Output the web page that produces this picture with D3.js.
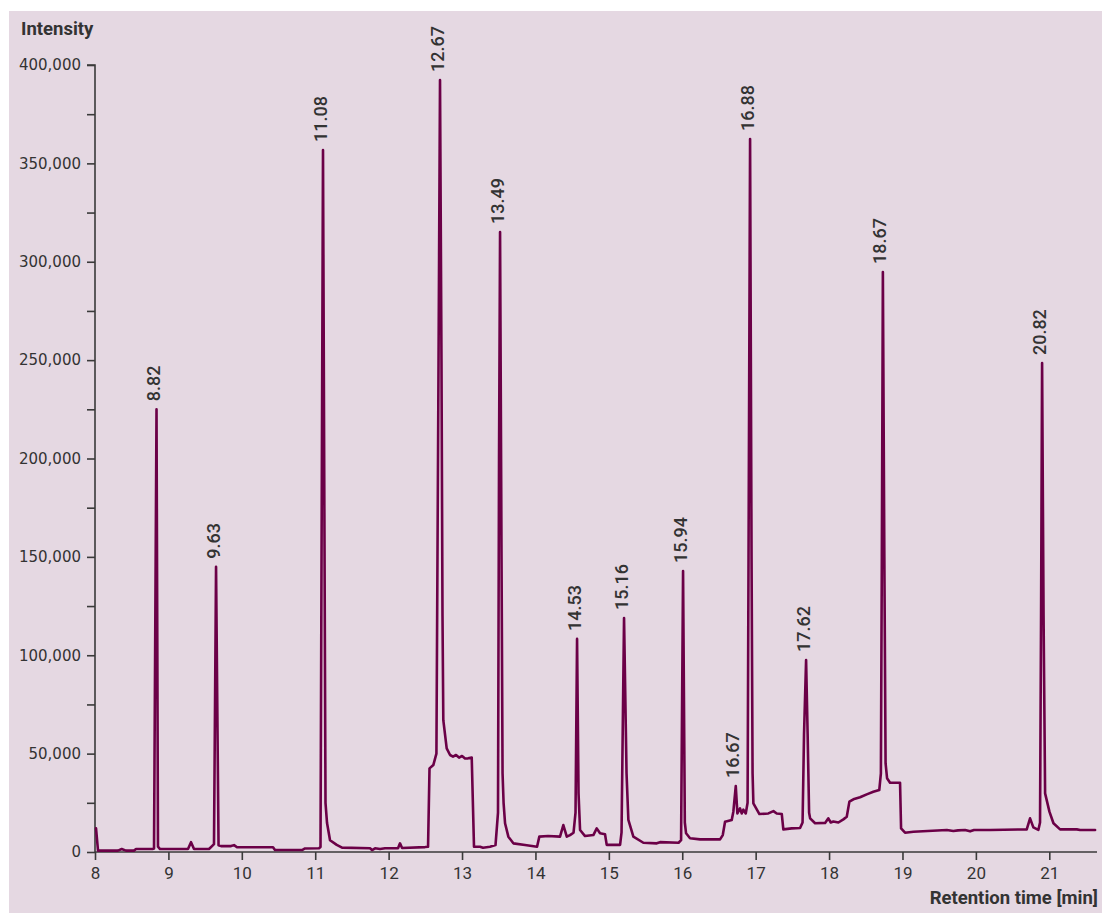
<!DOCTYPE html>
<html>
<head>
<meta charset="utf-8">
<script src="https://cdn.jsdelivr.net/npm/d3@7"></script>
<style>
  html, body { margin: 0; padding: 0; background: #ffffff; }
  svg { display: block; }
</style>
</head>
<body>
<svg id="chart" width="1102" height="913"></svg>
<script>
// ---- Data ----
const times = [
  8.014, 8.041, 8.313, 8.364, 8.422, 8.531, 8.559, 8.783, 8.804, 8.838, 8.858, 8.886,
  9.267, 9.308, 9.349, 9.553, 9.594, 9.621, 9.649, 9.683, 9.717, 9.853, 9.894, 9.935,
  10.425, 10.452, 10.820, 10.861, 11.052, 11.072, 11.106, 11.140, 11.161, 11.202, 11.293, 11.365,
  11.747, 11.774, 11.815, 11.883, 11.951, 12.128, 12.155, 12.183, 12.496, 12.537,
  12.557, 12.609, 12.651, 12.680, 12.700, 12.720, 12.734, 12.745, 12.791, 12.837, 12.877, 12.918,
  12.959, 13.000, 13.041, 13.082, 13.132, 13.163, 13.245, 13.286, 13.381, 13.456,
  13.490, 13.504, 13.518, 13.538, 13.552, 13.566, 13.586, 13.631, 13.699, 13.858, 14.022, 14.053,
  14.172, 14.335, 14.380, 14.427, 14.471, 14.519, 14.546, 14.567, 14.587, 14.608, 14.676, 14.789,
  14.835, 14.880, 14.948, 14.971, 15.153, 15.173, 15.207, 15.241, 15.266, 15.334, 15.470, 15.653,
  15.698, 15.950, 15.984, 16.011, 16.035, 16.052, 16.106, 16.243, 16.515, 16.552, 16.583, 16.674,
  16.696, 16.729, 16.751, 16.787, 16.810, 16.832, 16.865, 16.890, 16.903, 16.924, 16.944, 16.958,
  16.969, 17.051, 17.173, 17.242, 17.287, 17.356, 17.377, 17.492, 17.605, 17.639, 17.659, 17.687,
  17.708, 17.728, 17.742, 17.810, 17.946, 17.990, 18.023, 18.058, 18.127, 18.195, 18.241, 18.277,
  18.331, 18.422, 18.513, 18.603, 18.684, 18.706, 18.719, 18.733, 18.753, 18.770, 18.790, 18.831,
  18.967, 18.981, 19.035, 19.149, 19.604, 19.693, 19.757, 19.853, 19.921, 19.975, 20.193, 20.693,
  20.738, 20.783, 20.851, 20.874, 20.888, 20.902, 20.922, 20.943, 21.002, 21.057, 21.147, 21.375,
  21.420, 21.624
];
const intensity = [
  12000, 700, 700, 1500, 700, 700, 1500, 1500, 1800, 225000, 2700, 1500,
  1500, 5000, 1500, 1500, 3000, 4000, 145000, 3400, 3000, 3000, 3500, 2400,
  2400, 1000, 1000, 1800, 1900, 2500, 356800, 25000, 14700, 6000, 3600, 2200,
  1900, 1000, 1900, 1500, 1900, 1900, 4400, 2000, 2500, 2700,
  42500, 44200, 50000, 250000, 392400, 250000, 120000, 67000, 52700, 49300, 48500, 49300,
  48000, 48800, 47500, 47600, 48000, 2700, 2700, 2200, 2700, 3500,
  20000, 200000, 315100, 150000, 40000, 25000, 14600, 7800, 4400, 3600, 2700, 7800,
  8100, 7800, 13700, 7800, 8600, 9800, 20000, 108300, 30000, 11200, 8100, 8600,
  12000, 9500, 9000, 3600, 3600, 10000, 118900, 40000, 16300, 7800, 4700, 4400,
  5000, 4700, 6000, 142800, 15000, 9500, 7000, 6400, 6400, 8600, 15400, 16300,
  20500, 33500, 19600, 22200, 19600, 21500, 19600, 25000, 150000, 362400, 150000, 40000,
  24700, 19300, 19600, 20800, 19600, 19300, 11500, 12000, 12200, 15000, 60000, 97600,
  60000, 20000, 17100, 14600, 14800, 17100, 15000, 15500, 15000, 16600, 17900, 25600,
  26800, 27800, 29300, 30600, 31500, 40000, 150000, 294800, 150000, 45000, 37500, 35200,
  35200, 12000, 9800, 10300, 11200, 10700, 11000, 11200, 10500, 11200, 11200, 11500,
  17100, 12500, 11200, 15000, 120000, 248500, 120000, 29800, 20500, 14600, 11500, 11500,
  11200, 11200
];
const peakLabels = ["8.82", "9.63", "11.08", "12.67", "13.49", "14.53", "15.16",
                    "15.94", "16.67", "16.88", "17.62", "18.67", "20.82"];
const peakApexTimes = [8.838, 9.649, 11.106, 12.700, 13.518, 14.567, 15.207,
                       16.011, 16.729, 16.924, 17.687, 18.733, 20.902];
const xTicks = [8, 9, 10, 11, 12, 13, 14, 15, 16, 17, 18, 19, 20, 21];
const yTicks = [0, 25000, 50000, 75000, 100000, 125000, 150000, 175000, 200000,
                225000, 250000, 275000, 300000, 325000, 350000, 375000, 400000];
const yLabelStep = 50000;
const xTitle = "Retention time [min]";
const yTitle = "Intensity";

// ---- Layout ----
const svg = d3.select("#chart");
const W = 1102, H = 913;
const plot = { left: 95, right: 1097, top: 65, bottom: 852 };
const lineColor = "#6b0047";
const axisColor = "#3a3a3a";
const textColor = "#333333";

svg.append("rect").attr("x", 9).attr("y", 11).attr("width", W - 9).attr("height", H - 11)
  .attr("fill", "#e5d8e2");

const x = d3.scaleLinear().domain([8, 21.65]).range([plot.left, plot.right]);
const y = d3.scaleLinear().domain([0, 400000]).range([plot.bottom, plot.top]);

// Y axis
const yAxis = d3.axisLeft(y).tickValues(yTicks).tickSize(8).tickPadding(6)
  .tickFormat(d => d % yLabelStep === 0 ? d3.format(",")(d) : "");
const gy = svg.append("g").attr("transform", `translate(${plot.left},0)`).call(yAxis);
gy.select(".domain").attr("stroke", axisColor).attr("stroke-width", 1.6)
  .attr("d", `M-8,${plot.top}H0V${plot.bottom}`);
gy.selectAll(".tick line").attr("stroke", axisColor).attr("stroke-width", 1.6);
gy.selectAll(".tick text").attr("fill", textColor)
  .style("font-family", "'DejaVu Sans', sans-serif").style("font-size", "15px");

// X axis
const xAxis = d3.axisBottom(x).tickValues(xTicks).tickSize(8).tickPadding(7)
  .tickFormat(d3.format("d"));
const gx = svg.append("g").attr("transform", `translate(0,${plot.bottom})`).call(xAxis);
gx.select(".domain").attr("stroke", axisColor).attr("stroke-width", 1.6)
  .attr("d", `M${plot.left},0H${plot.right}`);
gx.selectAll(".tick line").attr("stroke", axisColor).attr("stroke-width", 1.6);
gx.selectAll(".tick text").attr("fill", textColor)
  .style("font-family", "Roboto, sans-serif").style("font-size", "17px");

// Titles
svg.append("text").attr("x", 21).attr("y", 35).text(yTitle)
  .attr("fill", textColor).style("font-family", "Roboto, sans-serif")
  .style("font-weight", "700").style("font-size", "18.5px");
svg.append("text").attr("x", 1098).attr("y", 904).attr("text-anchor", "end").text(xTitle)
  .attr("fill", textColor).style("font-family", "Roboto, sans-serif")
  .style("font-weight", "700").style("font-size", "18.5px");

// Trace
const trace = times.map((t, i) => ({ t, v: intensity[i] }));
const line = d3.line().x(d => x(d.t)).y(d => y(d.v));
svg.append("path").datum(trace).attr("d", line)
  .attr("fill", "none").attr("stroke", lineColor).attr("stroke-width", 2.6)
  .attr("stroke-linejoin", "round").attr("stroke-linecap", "round");

// Peak labels
const peaks = peakLabels.map((label, i) => {
  const t = peakApexTimes[i];
  const pt = trace.reduce((a, b) => Math.abs(b.t - t) < Math.abs(a.t - t) ? b : a);
  return { label, t: pt.t, v: pt.v };
});
svg.append("g").selectAll("text").data(peaks).join("text")
  .attr("transform", d => `translate(${x(d.t) + 3.5},${y(d.v) - 8}) rotate(-90)`)
  .attr("text-anchor", "start")
  .attr("fill", textColor)
  .style("font-family", "Roboto, sans-serif").style("font-weight", "500")
  .style("font-size", "18px")
  .text(d => d.label);
</script>
</body>
</html>
